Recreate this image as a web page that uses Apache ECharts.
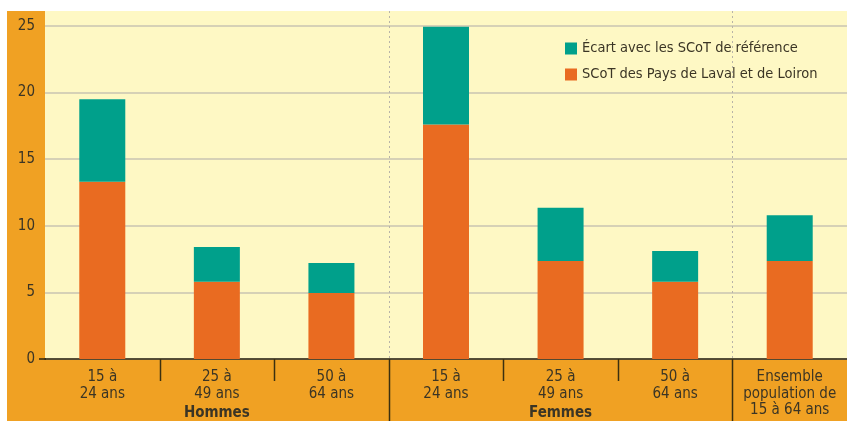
<!DOCTYPE html>
<html><head><meta charset="utf-8">
<script src="https://cdn.jsdelivr.net/npm/echarts@6/dist/echarts.min.js"></script>
<style>html,body{margin:0;padding:0;background:#fff}#c{width:847px;height:421px}</style>
</head><body><div id="c"></div>
<script>
var categories = ['15 à\n24 ans','25 à\n49 ans','50 à\n64 ans','15 à\n24 ans','25 à\n49 ans','50 à\n64 ans','Ensemble\npopulation de\n15 à 64 ans'];
var groups = [{name:'Hommes', from:0, to:2}, {name:'Femmes', from:3, to:5}];
var scotLaval = [13.3, 5.8, 4.95, 17.6, 7.35, 5.8, 7.35];
var ecartRef = [6.2, 2.6, 2.25, 7.35, 4.0, 2.3, 3.45];
var yTicks = {min:0, max:25, interval:5};

var FONT = "'Liberation Sans Narrow','DejaVu Sans Condensed','Liberation Sans',sans-serif";
var TXT = '#3b3525';
var chart = echarts.init(document.getElementById('c'));
var option = {
  backgroundColor: '#ffffff',
  animation: false,
  textStyle: {fontFamily: FONT},
  grid: {left: 45, right: 0, top: 26, bottom: 62, show: true, backgroundColor: '#fef8c4', borderWidth: 0},
  legend: {
    left: 560, top: 36, orient: 'vertical', itemWidth: 12, itemHeight: 12, itemGap: 11,
    data: ['Écart avec les SCoT de référence', 'SCoT des Pays de Laval et de Loiron'],
    textStyle: {fontFamily: FONT, fontSize: 14.5, color: TXT}, icon: 'rect'
  },
  xAxis: {
    type: 'category', data: categories,
    axisLine: {lineStyle: {color: '#2b2510', width: 1.5}},
    axisTick: {show: false},
    axisLabel: {fontFamily: FONT, fontSize: 15, color: TXT, lineHeight: 16.5, margin: 10, interval: 0}
  },
  yAxis: {
    type: 'value', min: yTicks.min, max: yTicks.max, interval: yTicks.interval,
    axisLine: {show: false}, axisTick: {show: false},
    axisLabel: {fontFamily: FONT, fontSize: 15, color: TXT, margin: 10},
    splitLine: {lineStyle: {color: '#c9c5b2', width: 1.5}}
  },
  series: [
    {name: 'SCoT des Pays de Laval et de Loiron', type: 'bar', stack: 's', data: scotLaval, barWidth: 46, itemStyle: {color: '#e96b21'}},
    {name: 'Écart avec les SCoT de référence', type: 'bar', stack: 's', data: ecartRef, barWidth: 46, itemStyle: {color: '#00a08b'}}
  ]
};
chart.setOption(option);

function drawExtras() {
  var w = chart.getWidth(), h = chart.getHeight();
  var p0 = chart.convertToPixel({xAxisIndex: 0}, 0);
  var p1 = chart.convertToPixel({xAxisIndex: 0}, 1);
  var step = p1 - p0;
  var yZero = chart.convertToPixel({yAxisIndex: 0}, 0);
  var top = 11, left = 45;
  var g = [];
  g.push({type: 'rect', z: -10, shape: {x: 7, y: top, width: w - 7, height: h - top}, style: {fill: '#f0a123'}, silent: true});
  g.push({type: 'rect', z: -9, shape: {x: left, y: top, width: w - left, height: 16}, style: {fill: '#fef8c4'}, silent: true});
  [0.5, 1.5, 3.5, 4.5].forEach(function (s) {
    var x = Math.round(p0 + s * step) + 0.5;
    g.push({type: 'line', z: 5, shape: {x1: x, y1: yZero, x2: x, y2: yZero + 22}, style: {stroke: '#3b3010', lineWidth: 1.5}});
  });
  [2.5, 5.5].forEach(function (s) {
    var x = Math.round(p0 + s * step) + 0.5;
    g.push({type: 'line', z: 5, shape: {x1: x, y1: top, x2: x, y2: yZero}, style: {stroke: '#b8b4a8', lineWidth: 1, lineDash: [2, 3]}});
    g.push({type: 'line', z: 5, shape: {x1: x, y1: yZero, x2: x, y2: h}, style: {stroke: '#3b3010', lineWidth: 1.5}});
  });
  groups.forEach(function (gr) {
    var a = chart.convertToPixel({xAxisIndex: 0}, gr.from);
    var b = chart.convertToPixel({xAxisIndex: 0}, gr.to);
    g.push({type: 'text', z: 6, style: {text: gr.name, x: (a + b) / 2, y: h - 8, textAlign: 'center', textVerticalAlign: 'middle', fontFamily: FONT, fontSize: 15, fontWeight: 'bold', fill: TXT}});
  });
  g.push({type: 'line', z: 5, shape: {x1: 39, y1: yZero, x2: 46, y2: yZero}, style: {stroke: '#2b2510', lineWidth: 1.5}});
  chart.setOption({graphic: g});
}
drawExtras();
</script>
</body></html>
